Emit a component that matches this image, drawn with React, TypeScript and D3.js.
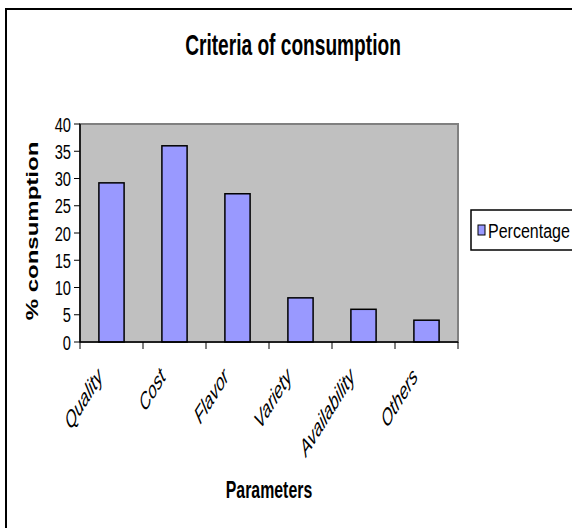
import React from "react";
import * as d3 from "d3";

const categories = ["Quality", "Cost", "Flavor", "Variety", "Availability", "Others"];
const percentage = [29.2, 36, 27.2, 8.1, 6, 4];
const yTicks = [0, 5, 10, 15, 20, 25, 30, 35, 40];
const seriesName = "Percentage";
const title = "Criteria of consumption";
const xTitle = "Parameters";
const yTitle = "% consumption";

const FONT = "'Liberation Sans', Arial, sans-serif";
const SX = 0.66;

export default function App() {
  const W = 572, H = 528;
  const left = 80, right = 458, top = 124, bottom = 342;
  const x = d3.scaleBand<string>().domain(categories).range([left, right]).paddingInner(0).paddingOuter(0);
  const y = d3.scaleLinear().domain([0, 40]).range([bottom, top]);
  const bw = x.bandwidth() / 2.5;
  const tickPos = [...categories.map((c) => x(c)!), right];

  return (
    <svg width={W} height={H} style={{ position: "absolute", left: 0, top: 0 }}>
      <rect x={0} y={0} width={W} height={H} fill="#fff" />
      <rect x={6} y={9} width={W} height={H} fill="none" stroke="#000" strokeWidth={2} />
      <text transform={`translate(293,55) scale(${SX},1)`} textAnchor="middle" fontFamily={FONT} fontWeight="bold" fontSize={29}>{title}</text>
      <rect x={left} y={top} width={right - left} height={bottom - top} fill="#C0C0C0" stroke="#808080" strokeWidth={2} />
      {categories.map((c, i) => (
        <rect key={c} x={x(c)! + (x.bandwidth() - bw) / 2} y={y(percentage[i])} width={bw} height={bottom - y(percentage[i])} fill="#9999FF" stroke="#000" strokeWidth={1.5} />
      ))}
      <line x1={left} x2={left} y1={top} y2={bottom} stroke="#000" strokeWidth={1.5} />
      <line x1={left} x2={right} y1={bottom} y2={bottom} stroke="#000" strokeWidth={1.5} />
      {yTicks.map((t) => (
        <g key={t}>
          <line x1={left - 6} x2={left} y1={y(t)} y2={y(t)} stroke="#000" strokeWidth={1} />
          <text transform={`translate(71,${y(t) + 7.5}) scale(0.7,1)`} textAnchor="end" fontFamily={FONT} fontSize={21}>{t}</text>
        </g>
      ))}
      {tickPos.map((p, i) => (
        <line key={i} x1={p} x2={p} y1={bottom} y2={bottom + 7} stroke="#000" strokeWidth={1} />
      ))}
      {categories.map((c) => {
        const cx = x(c)! + x.bandwidth() / 2 - 8;
        const cy = 378;
        return (
          <text key={c} transform={`translate(${cx},${cy}) scale(0.62,1) rotate(-45)`} textAnchor="end" fontFamily={FONT} fontStyle="italic" fontSize={24}>{c}</text>
        );
      })}
      <text transform={`translate(37.5,231) scale(${SX},1) rotate(-90)`} textAnchor="middle" fontFamily={FONT} fontWeight="bold" fontSize={24}>{yTitle}</text>
      <text transform={`translate(269,498) scale(0.69,1)`} textAnchor="middle" fontFamily={FONT} fontWeight="bold" fontSize={23}>{xTitle}</text>
      <rect x={471} y={210} width={W} height={40} fill="#fff" stroke="#000" strokeWidth={1.5} />
      <rect x={478} y={225} width={7} height={10} fill="#9999FF" stroke="#000" strokeWidth={1} />
      <text transform={`translate(488,238) scale(0.8,1)`} fontFamily={FONT} fontSize={20}>{seriesName}</text>
    </svg>
  );
}
